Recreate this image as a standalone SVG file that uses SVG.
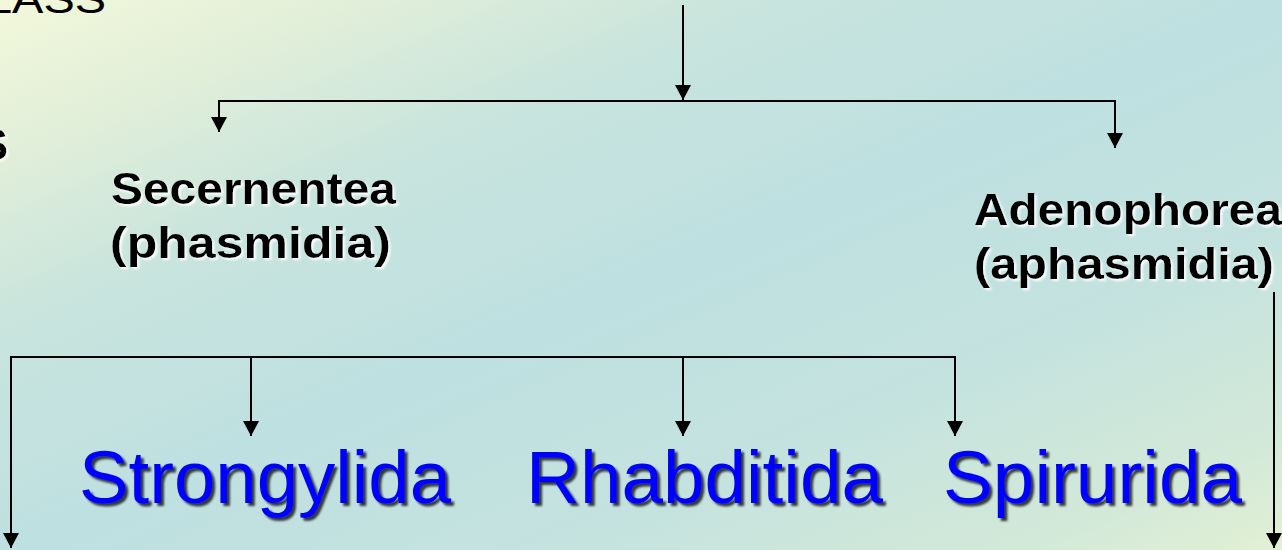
<svg xmlns="http://www.w3.org/2000/svg" width="1282" height="550" viewBox="0 0 1282 550">
  <defs>
    <!-- diagonal pale-yellow / aqua backdrop -->
    <linearGradient id="bg" x1="0" y1="0" x2="1" y2="1">
      <stop offset="0" stop-color="#f3f8da"/>
      <stop offset="0.15" stop-color="#e0eed9"/>
      <stop offset="0.3" stop-color="#c8e4dd"/>
      <stop offset="0.5" stop-color="#bfe0e1"/>
      <stop offset="0.7" stop-color="#c3e2df"/>
      <stop offset="0.9" stop-color="#d3e9d8"/>
      <stop offset="1" stop-color="#e2f0d5"/>
    </linearGradient>
    <marker id="arrow" markerUnits="userSpaceOnUse" markerWidth="16" markerHeight="16" refX="15" refY="8" orient="auto">
      <path d="M0,0 L15,8 L0,16 Z" fill="#000"/>
    </marker>
    <filter id="glow" x="-10%" y="-30%" width="120%" height="160%">
      <feDropShadow dx="2" dy="2" stdDeviation="1" flood-color="#ffffff" flood-opacity="0.95"/>
    </filter>
    <filter id="shade" x="-10%" y="-30%" width="120%" height="160%">
      <feDropShadow dx="3" dy="3" stdDeviation="1.2" flood-color="#000000" flood-opacity="0.75"/>
    </filter>
  </defs>
  <style>
    .rank { font-family: "Liberation Sans", Arial, sans-serif; font-weight: bold; font-size: 44px; fill: #000; filter: url(#glow); }
    .order { font-family: "Liberation Sans", Arial, sans-serif; font-size: 74px; fill: #0000ff; filter: url(#shade); }
    .head { font-family: "Liberation Sans", Arial, sans-serif; font-size: 40px; fill: #000; }
    .link { stroke: #000; stroke-width: 2; fill: none; }
    .tip { marker-end: url(#arrow); }
  </style>

  <rect x="0" y="0" width="1282" height="550" fill="url(#bg)"/>

  <g id="class-title">
    <text class="head" x="106" y="13" text-anchor="end" textLength="120" lengthAdjust="spacingAndGlyphs">LASS</text>
  </g>
  <g id="side-label">
    <text class="rank" x="8" y="160" text-anchor="end">S</text>
  </g>

  <g id="connectors">
    <line class="link tip" x1="683" y1="5" x2="683" y2="100"/>
    <line class="link" x1="218" y1="101" x2="1116" y2="101"/>
    <line class="link tip" x1="219" y1="100" x2="219" y2="132"/>
    <line class="link tip" x1="1115" y1="100" x2="1115" y2="148"/>
    <line class="link" x1="10" y1="357" x2="956" y2="357"/>
    <line class="link tip" x1="11" y1="356" x2="11" y2="548"/>
    <line class="link tip" x1="251" y1="357" x2="251" y2="436"/>
    <line class="link tip" x1="683" y1="357" x2="683" y2="436"/>
    <line class="link tip" x1="955" y1="356" x2="955" y2="436"/>
    <line class="link tip" x1="1274" y1="292" x2="1274" y2="548"/>
  </g>

  <g id="secernentea">
    <text class="rank" x="111" y="204" textLength="285" lengthAdjust="spacingAndGlyphs">Secernentea</text>
    <text class="rank" x="110" y="258" textLength="281" lengthAdjust="spacingAndGlyphs">(phasmidia)</text>
  </g>
  <g id="adenophorea">
    <text class="rank" x="974" y="225" textLength="308" lengthAdjust="spacingAndGlyphs">Adenophorea</text>
    <text class="rank" x="974" y="279" textLength="300" lengthAdjust="spacingAndGlyphs">(aphasmidia)</text>
  </g>
  <g id="strongylida">
    <text class="order" x="79" y="503" textLength="372" lengthAdjust="spacingAndGlyphs">Strongylida</text>
  </g>
  <g id="rhabditida">
    <text class="order" x="526" y="503" textLength="357" lengthAdjust="spacingAndGlyphs">Rhabditida</text>
  </g>
  <g id="spirurida">
    <text class="order" x="943" y="503" textLength="299" lengthAdjust="spacingAndGlyphs">Spirurida</text>
  </g>
</svg>
